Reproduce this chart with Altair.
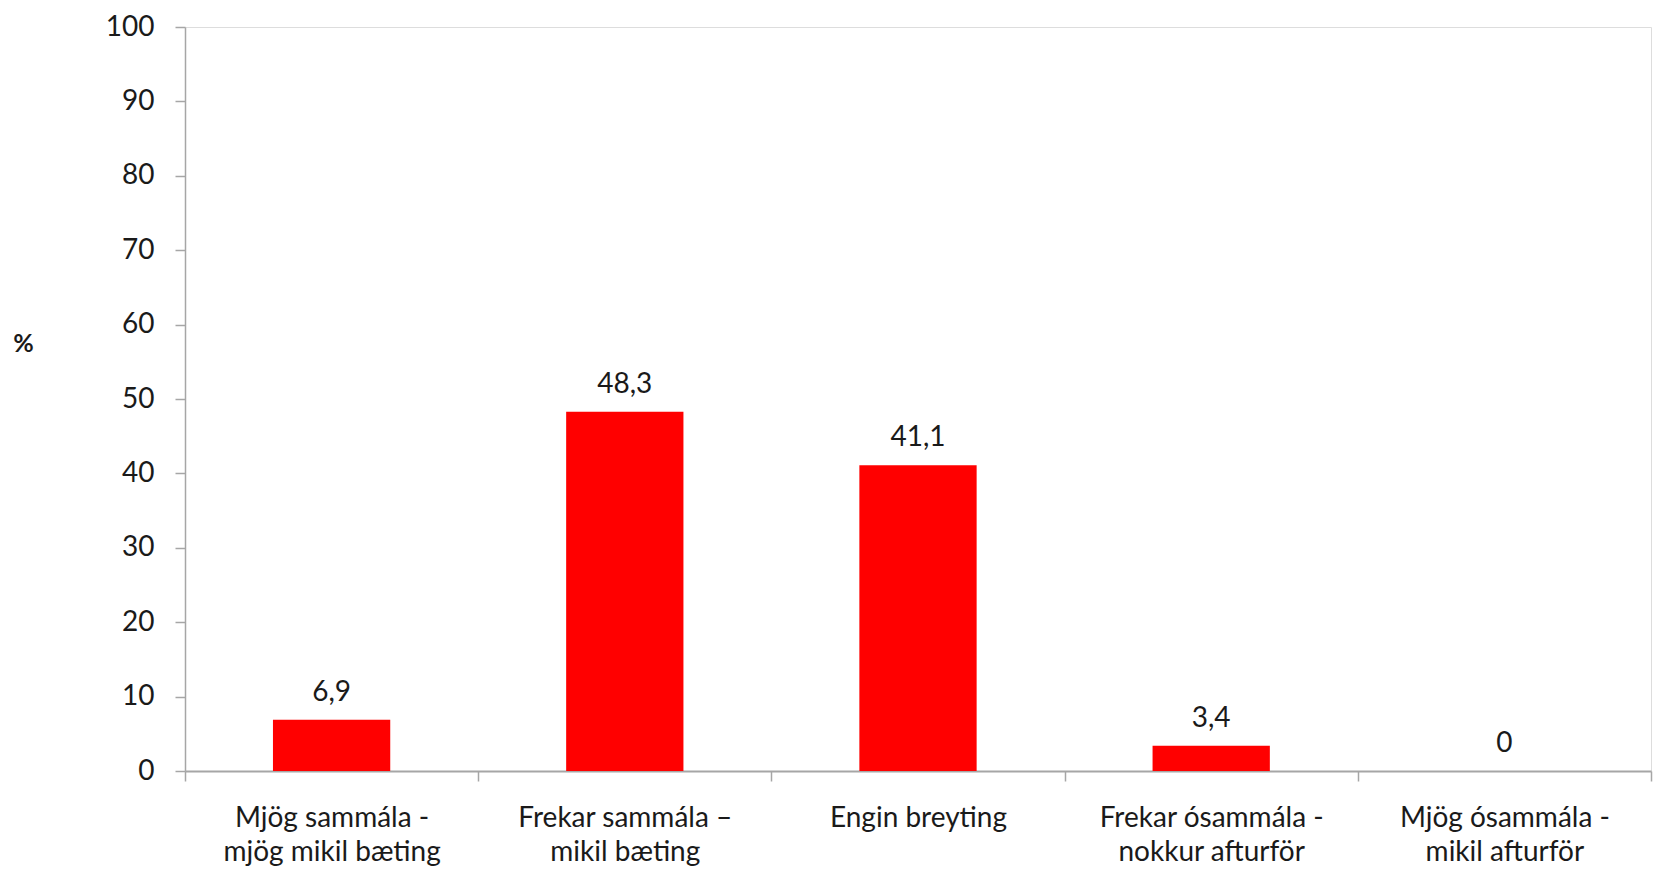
import altair as alt
import pandas as pd

categories = [
    "Mjög sammála -\nmjög mikil bæting",
    "Frekar sammála –\nmikil bæting",
    "Engin breyting",
    "Frekar ósammála -\nnokkur afturför",
    "Mjög ósammála -\nmikil afturför",
]
values = [6.9, 48.3, 41.1, 3.4, 0]
value_labels = ["6,9", "48,3", "41,1", "3,4", "0"]
y_ticks = [0, 10, 20, 30, 40, 50, 60, 70, 80, 90, 100]

df = pd.DataFrame({"cat": categories, "v": values, "lab": value_labels})

FONT = "Lato"
TXT = "#1a1a1a"
AX = "#a6a6a6"

x_enc = alt.X(
    "cat:N",
    sort=categories,
    scale=alt.Scale(paddingInner=0, paddingOuter=0),
    axis=alt.Axis(
        title=None,
        labelAngle=0,
        labelExpr="split(datum.label, '\\n')",
        labelFont=FONT,
        labelFontSize=28,
        labelColor=TXT,
        labelLineHeight=34,
        labelPadding=23,
        labelBaseline="top",
        labelLimit=0,
        tickBand="extent",
        tickSize=10,
        tickColor=AX,
        tickWidth=1.5,
        domainColor=AX,
        domainWidth=2,
        grid=False,
    ),
)

y_enc = alt.Y(
    "v:Q",
    scale=alt.Scale(domain=[0, 100], nice=False),
    axis=alt.Axis(
        values=y_ticks,
        title="%",
        titleAngle=0,
        titleX=-162,
        titleY=316,
        titleAlign="center",
        titleBaseline="middle",
        titleFont=FONT,
        titleFontSize=25,
        titleFontWeight="bold",
        titleColor=TXT,
        labelFont=FONT,
        labelFontSize=28,
        labelColor=TXT,
        labelPadding=21,
        tickSize=10,
        tickColor=AX,
        tickWidth=1.5,
        domainColor=AX,
        domainWidth=1.5,
        grid=False,
    ),
)

bars = alt.Chart(df).mark_bar(
    color="#ff0000", width=alt.RelativeBandSize(0.4)
).encode(x=x_enc, y=y_enc)

labels = alt.Chart(df).mark_text(
    font=FONT, fontSize=28, color=TXT, baseline="alphabetic", dy=-19
).encode(x=alt.X("cat:N", sort=categories), y="v:Q", text="lab:N")

chart = (
    alt.layer(bars, labels)
    .properties(
        width=1466,
        height=744,
        autosize=alt.AutoSizeParams(type="none"),
        padding={"left": 177, "top": 19, "right": 8, "bottom": 104},
    )
    .configure_view(stroke=None)
    .configure(background="white")
)

chart.save("out.html", embed_options={"renderer": "svg", "actions": False})
